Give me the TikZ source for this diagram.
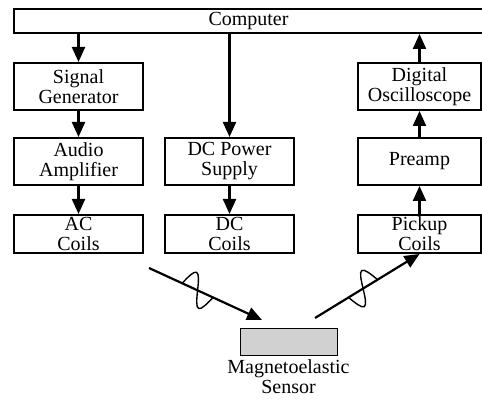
\documentclass[tikz,border=0pt]{standalone}
\usepackage{fontspec}
\setmainfont{Liberation Serif}
\usetikzlibrary{arrows.meta,calc}
\begin{document}
\begin{tikzpicture}[x=1pt,y=1pt,
  blk/.style={draw, line width=2pt, align=center, minimum width=129pt, minimum height=47pt, inner sep=0pt, font=\rmfamily\fontsize{20}{20}\selectfont},
  arr/.style={line width=2.2pt, -{Triangle[width=13pt,length=15pt]}},
  wave/.style={line width=1.4pt}]
\useasboundingbox (0,0) rectangle (482,403);
\node[blk, minimum width=469pt, minimum height=24pt] (comp) at (248.5,382) {Computer};

\node[blk] (sig) at (78.5,316.5) {Signal\\Generator};
\node[blk] (amp) at (78.5,241.5) {Audio\\Amplifier};
\node[blk, minimum height=38pt] (ac) at (78.5,169) {AC\\Coils};

\node[blk] (dcps) at (229.5,241.5) {DC Power\\Supply};
\node[blk, minimum height=38pt] (dc) at (229.5,169) {DC\\Coils};

\node[blk, minimum width=123pt] (osc) at (419.5,316.5) {Digital\\Oscilloscope};
\node[blk, minimum width=123pt] (pre) at (419.5,241.5) {Preamp};
\node[blk, minimum width=123pt, minimum height=38pt] (pick) at (419.5,169) {Pickup\\Coils};

\node[draw, line width=0.8pt, fill=black!18, minimum width=97pt, minimum height=27pt, inner sep=0pt] (sens) at (288.5,61.5) {};
\node[align=center, inner sep=0pt, anchor=north, font=\rmfamily\fontsize{20}{20}\selectfont] (senslbl) at ([yshift=-4pt]sens.south) {Magnetoelastic\\Sensor};

\coordinate (acout) at (149,135);
\coordinate (sensin) at (262,83);
\coordinate (sensout) at (315,85);

\draw[arr] (comp.south -| sig.north) -- (sig.north);
\draw[arr] (sig) -- (amp);
\draw[arr] (amp) -- (ac);
\draw[arr] (comp.south -| dcps.north) -- (dcps.north);
\draw[arr] (dcps) -- (dc);
\draw[arr] (pick) -- (pre);
\draw[arr] (pre) -- (osc);
\draw[arr] (osc.north) -- (osc.north |- comp.south);

% field lines to and from the sensor
\draw[arr] (acout) -- (sensin);
\draw[arr] (sensout) -- (pick.south);
\coordinate (wl) at ($(acout)!0.43!(sensin)$);
\coordinate (wr) at ($(sensout)!0.46!(pick.south)$);
\draw[wave, shift={(wl)}, rotate=-24.7] (-17,0) sin (-8.5,16) cos (0,0) sin (8.5,-16) cos (17,0);
\draw[wave, shift={(wr)}, rotate=31.8] (-17,0) sin (-8.5,-16) cos (0,0) sin (8.5,16) cos (17,0);
\end{tikzpicture}
\end{document}
